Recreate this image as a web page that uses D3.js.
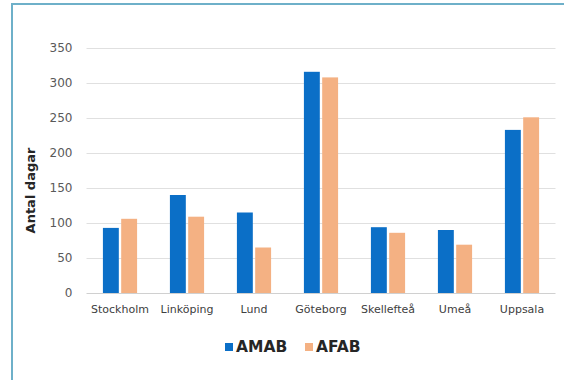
<!DOCTYPE html>
<html>
<head>
<meta charset="utf-8">
<script src="https://cdn.jsdelivr.net/npm/d3@7"></script>
<style>
  html, body { margin: 0; padding: 0; background: #ffffff; }
  svg { display: block; }
</style>
</head>
<body>
<svg id="chart" width="564" height="380"></svg>
<script>
// Number of days per city, by group
const cities = ["Stockholm", "Linköping", "Lund", "Göteborg", "Skellefteå", "Umeå", "Uppsala"];
const seriesNames = ["AMAB", "AFAB"];
const amab = [93, 140, 115, 316, 94, 90, 233];
const afab = [106, 109, 65, 308, 86, 69, 251];
const yTicks = [0, 50, 100, 150, 200, 250, 300, 350];
const seriesColors = ["#0b6fc7", "#f4b183"];

const rows = cities.map((c, i) => ({ city: c, AMAB: amab[i], AFAB: afab[i] }));

const svg = d3.select("#chart");
const font = "'DejaVu Sans', 'Liberation Sans', Arial, sans-serif";

// frame lines along the top and left edges
svg.append("line").attr("x1", 11).attr("x2", 564).attr("y1", 4).attr("y2", 4)
  .attr("stroke", "#6eb0c9").attr("stroke-width", 2);
svg.append("line").attr("x1", 12).attr("x2", 12).attr("y1", 3).attr("y2", 380)
  .attr("stroke", "#6eb0c9").attr("stroke-width", 2);

const plotLeft = 86.5, plotRight = 555.5, plotTop = 48, plotBottom = 293;

const x0 = d3.scaleBand().domain(cities).range([plotLeft, plotRight])
  .paddingInner(0.49).paddingOuter(0.245);
const x1 = d3.scaleBand().domain(seriesNames).range([0, x0.bandwidth()]).paddingInner(0.13);
const y = d3.scaleLinear().domain([0, 350]).range([plotBottom, plotTop]);
const color = d3.scaleOrdinal().domain(seriesNames).range(seriesColors);

// horizontal gridlines
svg.append("g")
  .selectAll("line")
  .data(yTicks.filter(t => t > 0))
  .join("line")
  .attr("x1", plotLeft).attr("x2", plotRight)
  .attr("y1", d => Math.round(y(d)) + 0.5).attr("y2", d => Math.round(y(d)) + 0.5)
  .attr("stroke", "#e0e0e0").attr("stroke-width", 1);

// y axis labels
const yAxis = svg.append("g")
  .attr("transform", `translate(${plotLeft - 14},0)`)
  .call(d3.axisLeft(y).tickValues(yTicks).tickSize(0).tickPadding(0));
yAxis.select(".domain").remove();
yAxis.selectAll("text")
  .attr("font-family", font).attr("font-size", 12).attr("fill", "#595959");

// bars
svg.append("g")
  .selectAll("g")
  .data(rows)
  .join("g")
  .attr("transform", d => `translate(${x0(d.city)},0)`)
  .selectAll("rect")
  .data(d => seriesNames.map(k => ({ key: k, value: d[k] })))
  .join("rect")
  .attr("x", d => x1(d.key))
  .attr("width", x1.bandwidth())
  .attr("y", d => y(d.value))
  .attr("height", d => y(0) - y(d.value))
  .attr("fill", d => color(d.key));

// x axis baseline and category labels
const xAxis = svg.append("g")
  .attr("transform", `translate(0,${plotBottom})`)
  .call(d3.axisBottom(x0).tickSize(0).tickPadding(12));
xAxis.select(".domain").attr("stroke", "#d0d0d0").attr("d", `M${plotLeft},0.5H${plotRight}`);
xAxis.selectAll("text")
  .attr("font-family", font).attr("font-size", 11).attr("fill", "#404040");

// y axis title
svg.append("text")
  .attr("transform", `translate(35,${(plotTop + plotBottom) / 2 + 20}) rotate(-90)`)
  .attr("text-anchor", "middle")
  .attr("font-family", font).attr("font-size", 13).attr("font-weight", "bold")
  .attr("fill", "#262626")
  .text("Antal dagar");

// legend
const legendX = [225, 305];
const legend = svg.append("g")
  .selectAll("g")
  .data(seriesNames)
  .join("g")
  .attr("transform", (d, i) => `translate(${legendX[i]},343)`);
legend.append("rect").attr("width", 8).attr("height", 8).attr("fill", d => color(d));
legend.append("text")
  .attr("x", 11).attr("y", 9)
  .attr("font-family", font).attr("font-size", 15.5).attr("font-weight", "bold")
  .attr("fill", "#262626")
  .text(d => d);
</script>
</body>
</html>
